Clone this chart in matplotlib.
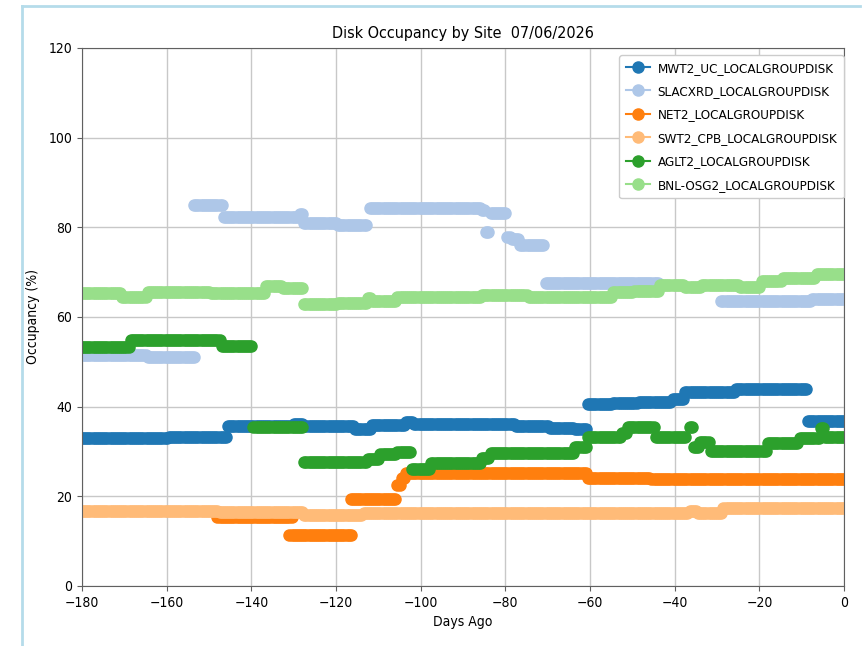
import numpy as np
import matplotlib
matplotlib.use('Agg')
from matplotlib import pyplot as plt
from matplotlib.lines import Line2D

plt.rcParams['font.family'] = ['DejaVu Sans']
plt.rcParams['font.stretch'] = 'condensed'

# Site names, in legend order
sites = ['MWT2_UC_LOCALGROUPDISK', 'SLACXRD_LOCALGROUPDISK', 'NET2_LOCALGROUPDISK',
         'SWT2_CPB_LOCALGROUPDISK', 'AGLT2_LOCALGROUPDISK', 'BNL-OSG2_LOCALGROUPDISK']
colors = ['#1f77b4', '#aec7e8', '#ff7f0e', '#ffbb78', '#2ca02c', '#98df8a']

# Occupancy held constant over runs of days: (first day, last day, occupancy %)
mwt2 = [(-180, -160, 33.0), (-159.5, -146, 33.3), (-145.5, -130.5, 35.7), (-130, -128, 36.2),
        (-127.5, -116, 35.6), (-115.5, -112, 35.1), (-111.5, -104, 36.0), (-103.5, -102, 36.6),
        (-101.5, -78, 36.2), (-77.5, -70, 35.7), (-69.5, -64, 35.3), (-63.5, -61, 35.0),
        (-60.5, -55, 40.6), (-54.5, -49, 40.9), (-48.5, -41, 41.1), (-40.5, -38, 41.8),
        (-37.5, -26, 43.3), (-25.5, -9, 43.9), (-8.5, 0, 36.7)]
slacxrd = [(-180, -165, 51.5), (-164.5, -153.5, 51.0), (-153.5, -147, 85.0), (-146.5, -129, 82.3),
           (-128.5, -128, 83.0), (-127.5, -120, 80.9), (-119.5, -113, 80.6), (-112, -86, 84.3),
           (-85.5, -85, 83.8), (-84.5, -84, 79.0), (-83.5, -80, 83.3), (-79.5, -79, 77.9),
           (-78.5, -77, 77.3), (-76.5, -71, 76.1), (-70.5, -44, 67.6), (-29, -8, 63.5),
           (-7.5, 0, 64.0)]
net2 = [(-148, -130.5, 15.3), (-131, -116.5, 11.3), (-116.5, -106, 19.3), (-105.5, -105, 22.5),
        (-104.5, -104, 24.0), (-103.5, -61, 25.1), (-60.5, -46, 24.1), (-45.5, 0, 23.8)]
swt2 = [(-180, -148, 16.8), (-147.5, -131, 16.4), (-130.5, -128, 16.6), (-127.5, -114, 15.8),
        (-113.5, -37, 16.35), (-36.5, -35, 16.7), (-34.5, -29, 16.2), (-28.5, 0, 17.3)]
aglt2 = [(-180, -169, 53.3), (-168.5, -147.5, 54.9), (-147, -140, 53.6), (-139.5, -128, 35.4),
         (-127.5, -113, 27.6), (-112.5, -110, 28.4), (-109.5, -106, 29.5), (-105.5, -102.5, 29.9),
         (-102, -98, 26.1), (-97.5, -86, 27.5), (-85.5, -84, 28.6), (-83.5, -64, 29.7),
         (-63.5, -61, 31.0), (-60.5, -53, 33.3), (-52.5, -51.5, 34.1), (-51, -45, 35.5),
         (-44.5, -37.5, 33.3), (-36.5, -36, 35.5), (-35.5, -34.5, 31.0), (-34, -32, 32.2),
         (-31.5, -18.5, 30.0), (-18, -11, 31.9), (-10.5, -6, 32.9), (-5.5, -5, 35.2),
         (-4.5, 0, 33.2)]
bnl = [(-180, -171, 65.3), (-170.5, -165, 64.4), (-164.5, -150, 65.6), (-149.5, -137, 65.4),
       (-136.5, -133, 66.9), (-132.5, -128, 66.4), (-127.5, -120, 62.8), (-119.5, -113, 63.2),
       (-112.5, -112, 64.3), (-111.5, -106, 63.5), (-105.5, -86, 64.4), (-85.5, -75, 64.9),
       (-74.5, -55, 64.5), (-54.5, -50, 65.5), (-49.5, -44, 65.9), (-43.5, -38, 67.1),
       (-37.5, -34, 66.7), (-33.5, -25, 67.1), (-24.5, -20, 66.6), (-19.5, -15, 68.0),
       (-14.5, -7, 68.7), (-6.5, 0, 69.7)]
all_runs = [mwt2, slacxrd, net2, swt2, aglt2, bnl]

sample_step = 0.5  # days between measurements


def expand(runs):
    """ Turn runs of constant occupancy into sampled points, NaN between runs.
    """
    xs, ys = [], []
    for first, last, val in runs:
        days = np.arange(first, last + sample_step / 2, sample_step)
        xs.append(days)
        ys.append(np.full(len(days), val))
        xs.append([np.nan])
        ys.append([np.nan])
    return np.concatenate(xs), np.concatenate(ys)
#def

# ----------------------------------------------------------------------------

fig = plt.figure(figsize=(8.65, 6.46), dpi=100)
ax = fig.add_axes([0.0948, 0.0929, 0.881, 0.8328])

for name, col, runs in zip(sites, colors, all_runs):
    x, y = expand(runs)
    ax.plot(x, y, marker='o', color=col, markersize=8, linewidth=1.5, label=name)
###

ax.set_xlim(-180, 0)
ax.set_ylim(0, 120)
ax.set_xticks(np.arange(-180, 1, 20))
ax.set_yticks(np.arange(0, 121, 20))
ax.grid(True, color='#c8c8c8', linewidth=1.0)
ax.set_axisbelow(True)
for sp in ax.spines.values():
    sp.set_color('#606060')
ax.tick_params(labelsize=10, color='#606060')
ax.set_xlabel('Days Ago', fontsize=10)
ax.set_ylabel('Occupancy (%)', fontsize=10, labelpad=6)
ax.set_title('Disk Occupancy by Site  07/06/2026', fontsize=11.5, pad=7)
ax.legend(loc='upper right', bbox_to_anchor=(1.0, 0.987), borderaxespad=0.0,
          fontsize=9.6, framealpha=1.0, labelspacing=0.78, handlelength=1.8,
          handletextpad=0.6, borderpad=0.5)

# light blue frame of the page around the figure
fig.add_artist(Line2D([22 / 865, 860 / 865], [1 - 6 / 646, 1 - 6 / 646],
                      transform=fig.transFigure, color='#b5dcea', linewidth=2))
fig.add_artist(Line2D([22 / 865, 22 / 865], [1 - 6 / 646, 0],
                      transform=fig.transFigure, color='#b5dcea', linewidth=2))

plt.savefig('out.png', dpi=100)
